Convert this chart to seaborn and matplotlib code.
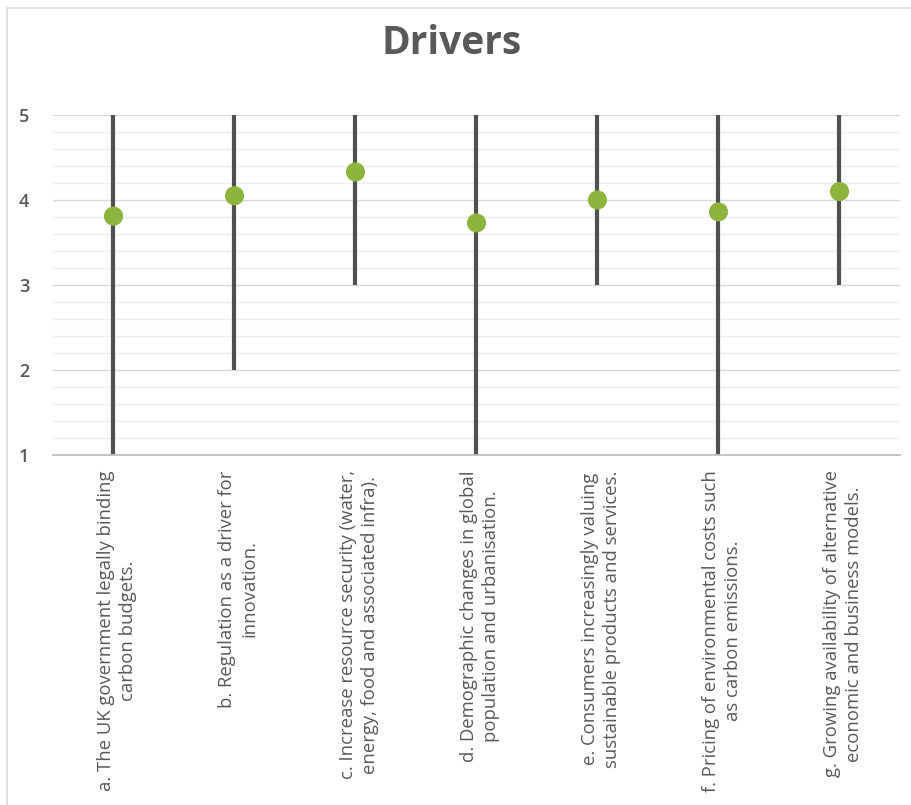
import matplotlib
matplotlib.use("Agg")
import matplotlib.pyplot as plt
from matplotlib.patches import Rectangle
from matplotlib.ticker import MultipleLocator
import seaborn as sns
import pandas as pd

# Survey drivers: response range (min..max) and mean score on a 1-5 scale
codes = ["a", "b", "c", "d", "e", "f", "g"]
labels = [
    "a. The UK government legally binding\ncarbon budgets.",
    "b. Regulation as a driver for\ninnovation.",
    "c. Increase resource security (water,\nenergy, food and associated infra).",
    "d. Demographic changes in global\npopulation and urbanisation.",
    "e. Consumers increasingly valuing\nsustainable products and services.",
    "f. Pricing of environmental costs such\nas carbon emissions.",
    "g. Growing availability of alternative\neconomic and business models.",
]
low = [1, 2, 3, 1, 3, 1, 3]
high = [5, 5, 5, 5, 5, 5, 5]
mean = [3.81, 4.05, 4.33, 3.73, 4.00, 3.86, 4.10]

df = pd.DataFrame({"code": codes, "label": labels, "low": low,
                   "high": high, "mean": mean})

sns.set_theme(style="white")
plt.rcParams["font.family"] = ["Open Sans", "DejaVu Sans"]

TEXT = "#595959"
fig = plt.figure(figsize=(9.12, 8.05), dpi=100)
ax = fig.add_axes([53 / 912, 1 - 455 / 805, 847 / 912, 340 / 805])

# chart-area frame
fig.patches.append(Rectangle((7 / 912, -0.01), 1.0, 1 - 8 / 805 + 0.01,
                             transform=fig.transFigure, fill=False,
                             edgecolor="#d9d9d9", linewidth=1.2, zorder=0))

ax.set_ylim(1, 5)
ax.yaxis.set_major_locator(MultipleLocator(1))
ax.yaxis.set_minor_locator(MultipleLocator(0.2))
ax.grid(which="minor", axis="y", color="#eeeeee", linewidth=1.0, zorder=0)
ax.grid(which="major", axis="y", color="#d9d9d9", linewidth=1.0, zorder=0)
ax.set_axisbelow(True)

# high-low range lines
ax.vlines(df["code"], df["low"], df["high"], color="#505050",
          linewidth=3.0, zorder=2)
# mean markers
sns.scatterplot(data=df, x="code", y="mean", ax=ax, s=190, color="#8db43d",
                edgecolor="none", zorder=3, legend=False)
ax.set_xlim(-0.5, len(codes) - 0.5)

for s in ["top", "right", "left"]:
    ax.spines[s].set_visible(False)
ax.spines["bottom"].set_color("#bfbfbf")
ax.spines["bottom"].set_linewidth(1.3)

ax.set_xlabel("")
ax.set_ylabel("")
ax.set_xticks(range(len(codes)))
ax.set_xticklabels([])
ax.tick_params(axis="x", length=0)
ax.tick_params(axis="y", length=0, pad=17, labelsize=13, labelcolor=TEXT)
for t in ax.get_yticklabels():
    t.set_fontweight("semibold")

for i, lab in enumerate(df["label"]):
    ax.text(i + 0.03, -0.045, lab, transform=ax.get_xaxis_transform(),
            rotation=90, ha="center", va="top", multialignment="center",
            fontsize=13.3, color=TEXT, linespacing=1.3)

fig.text(452 / 912, 1 - 43 / 805, "Drivers", ha="center", va="center",
         fontsize=28, fontweight="bold", color=TEXT)

fig.savefig("out.png", dpi=100, facecolor="white")
